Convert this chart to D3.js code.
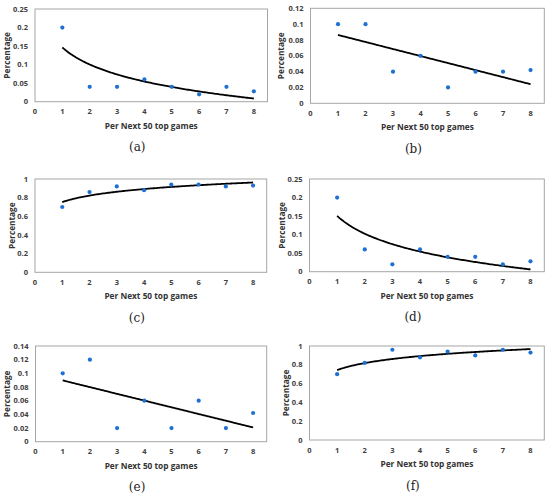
<!DOCTYPE html>
<html>
<head>
<meta charset="utf-8">
<script src="https://cdn.jsdelivr.net/npm/d3@7"></script>
<style>
  html, body { margin: 0; padding: 0; background: #fff; }
  svg { display: block; }
  .tick-label { font-family: "Open Sans", sans-serif; font-size: 7.5px; font-weight: 700; fill: #404040; }
  .axis-title { font-family: "Open Sans", sans-serif; font-size: 8.3px; font-weight: 700; fill: #333; }
  .caption { font-family: "DejaVu Serif", serif; font-size: 12px; fill: #222; }
</style>
</head>
<body>
<svg id="chart" width="550" height="497"></svg>
<script>
// ---- data ----
const xValues = [1, 2, 3, 4, 5, 6, 7, 8];
const seriesA = [0.20, 0.04, 0.04, 0.06, 0.04, 0.02, 0.04, 0.028];
const seriesB = [0.10, 0.10, 0.04, 0.06, 0.02, 0.04, 0.04, 0.042];
const seriesC = [0.70, 0.86, 0.92, 0.88, 0.94, 0.94, 0.92, 0.93];
const seriesD = [0.20, 0.06, 0.02, 0.06, 0.04, 0.04, 0.02, 0.028];
const seriesE = [0.10, 0.12, 0.02, 0.06, 0.02, 0.06, 0.02, 0.042];
const seriesF = [0.70, 0.82, 0.96, 0.88, 0.94, 0.90, 0.96, 0.93];
const panelLabels = ["(a)", "(b)", "(c)", "(d)", "(e)", "(f)"];
const trendTypes = ["log", "linear", "log", "log", "linear", "log"];
const yMaxes = [0.25, 0.12, 1, 0.25, 0.14, 1];
const yTickSteps = [0.05, 0.02, 0.2, 0.05, 0.02, 0.2];
const xTickLabels = [0, 1, 2, 3, 4, 5, 6, 7, 8];
const xMax = 8.5;
const xTitle = "Per Next 50 top games";
const yTitle = "Percentage";

// ---- layout (pixel positions) ----
const layouts = [
  { ox: 0,   oy: 0,   left: 35,   right: 267.5, top: 9,    bottom: 101.7, yTitleX: 7 },
  { ox: 275, oy: 0,   left: 35.5, right: 269.3, top: 8.3,  bottom: 103.3, yTitleX: 6 },
  { ox: 0,   oy: 165, left: 35,   right: 266.7, top: 14,   bottom: 107.3, yTitleX: 12.3 },
  { ox: 275, oy: 165, left: 34.5, right: 269.3, top: 14,   bottom: 106.7, yTitleX: 6.7 },
  { ox: 0,   oy: 330, left: 35.5, right: 266.7, top: 16,   bottom: 111.7, yTitleX: 6.7 },
  { ox: 275, oy: 330, left: 34.5, right: 269.3, top: 16,   bottom: 110,   yTitleX: 10.7 }
];

const allSeries = [seriesA, seriesB, seriesC, seriesD, seriesE, seriesF];
const svg = d3.select("#chart");

function regression(xs, ys, type) {
  const tx = xs.map(x => type === "log" ? Math.log(x) : x);
  const mx = d3.mean(tx), my = d3.mean(ys);
  let sxy = 0, sxx = 0;
  tx.forEach((t, i) => { sxy += (t - mx) * (ys[i] - my); sxx += (t - mx) * (t - mx); });
  const b = sxy / sxx, a = my - b * mx;
  return x => a + b * (type === "log" ? Math.log(x) : x);
}

allSeries.forEach((ys, i) => {
  const L = layouts[i];
  const g = svg.append("g").attr("transform", `translate(${L.ox},${L.oy})`);
  const x = d3.scaleLinear().domain([0, xMax]).range([L.left, L.right]);
  const y = d3.scaleLinear().domain([0, yMaxes[i]]).range([L.bottom, L.top]);

  // plot box
  g.append("rect")
    .attr("x", L.left).attr("y", L.top)
    .attr("width", L.right - L.left).attr("height", L.bottom - L.top)
    .attr("fill", "none").attr("stroke", "#a6a6a6").attr("stroke-width", 1);

  // y ticks
  const yTicks = d3.range(0, yMaxes[i] + yTickSteps[i] / 2, yTickSteps[i]);
  g.selectAll(".yt").data(yTicks).enter().append("text")
    .attr("class", "tick-label")
    .attr("x", L.left - 7)
    .attr("y", d => y(d))
    .attr("dy", "0.35em")
    .attr("text-anchor", "end")
    .text(d => String(+d.toFixed(2)));

  // x ticks
  g.selectAll(".xt").data(xTickLabels).enter().append("text")
    .attr("class", "tick-label")
    .attr("x", d => x(d))
    .attr("y", L.bottom + 10)
    .attr("dy", "0.35em")
    .attr("text-anchor", "middle")
    .text(d => d);

  // axis titles
  g.append("text").attr("class", "axis-title")
    .attr("x", (L.left + L.right) / 2)
    .attr("y", L.bottom + 24)
    .attr("dy", "0.35em")
    .attr("text-anchor", "middle")
    .text(xTitle);
  g.append("text").attr("class", "axis-title")
    .attr("transform", `translate(${L.yTitleX},${(L.top + L.bottom) / 2}) rotate(-90)`)
    .attr("dy", "0.35em")
    .attr("text-anchor", "middle")
    .text(yTitle);

  // trendline
  const f = regression(xValues, ys, trendTypes[i]);
  const samples = d3.range(1, 8.001, 0.05);
  g.append("path")
    .datum(samples)
    .attr("fill", "none").attr("stroke", "#000").attr("stroke-width", 1.8)
    .attr("d", d3.line().x(d => x(d)).y(d => y(f(d))));

  // points
  g.selectAll(".pt").data(ys).enter().append("circle")
    .attr("cx", (d, j) => x(xValues[j]))
    .attr("cy", d => y(d))
    .attr("r", 2.1)
    .attr("fill", "#1f70d3");

  // caption
  g.append("text").attr("class", "caption")
    .attr("x", (L.left + L.right) / 2 - 14)
    .attr("y", L.bottom + 45.5)
    .attr("dy", "0.35em")
    .attr("text-anchor", "middle")
    .text(panelLabels[i]);
});
</script>
</body>
</html>
